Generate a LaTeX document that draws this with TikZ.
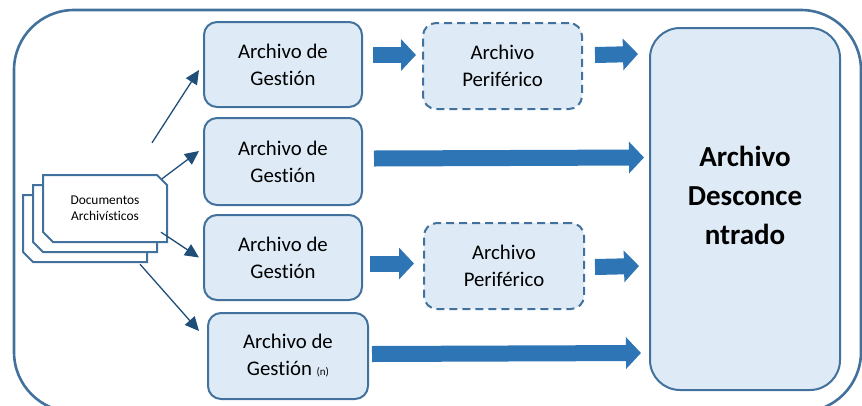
\documentclass[tikz,border=0pt]{standalone}
\usepackage{fontspec}
\setmainfont[Ligatures=NoCommon]{Carlito}
\usetikzlibrary{arrows.meta,calc}

\definecolor{boxfill}{HTML}{DEEBF7}
\definecolor{boxline}{HTML}{41719C}
\definecolor{blockblue}{HTML}{2E75B6}
\definecolor{thinblue}{HTML}{1F4E79}

\tikzset{
  frame/.style={draw=boxline, line width=2.6pt, rounded corners=60pt},
  archbox/.style={draw=boxline, fill=boxfill, line width=2pt, rounded corners=13pt,
    align=center, inner sep=0pt, font=\fontsize{20.8}{27}\selectfont},
  peribox/.style={archbox, dash pattern=on 8pt off 5pt},
  bigbox/.style={draw=boxline, fill=boxfill, line width=2pt, rounded corners=30pt,
    align=center, inner sep=0pt, font=\bfseries\fontsize{29}{39}\selectfont},
  sheet/.style={draw=boxline, fill=white, line width=2pt, line join=miter},
  blockarrow/.style={draw=blockblue, line width=16pt,
    -{Triangle[length=15pt,width=31pt]}},
  thinarrow/.style={draw=thinblue, line width=1.3pt,
    -{Triangle[length=14pt,width=13pt]}},
}

\begin{document}
\begin{tikzpicture}[x=1pt,y=-1pt]
\useasboundingbox (0,0) rectangle (862,405);
\begin{scope}
\clip (0,0) rectangle (862,405);
\draw[frame] (14,10) rectangle (861,412);
\end{scope}

% stack of document sheets (back to front)
\foreach \d in {20,10,0}{
  \draw[sheet] (43-\d,175+\d) -- (157-\d,175+\d) -- (167-\d,185+\d)
    -- (167-\d,242+\d) -- (53-\d,242+\d) -- (43-\d,232+\d) -- cycle;
}
\node[align=center, inner sep=0pt, minimum width=124pt, minimum height=67pt,
  font=\fontsize{13.4}{16}\selectfont] (docs) at (105,208.5)
  {Documentos\\Archivísticos};

% archive boxes
\node[archbox, minimum width=158pt, minimum height=85pt] (ag1) at (283,64.5) {Archivo de\\Gestión};
\node[archbox, minimum width=158pt, minimum height=87pt] (ag2) at (283,161.5) {Archivo de\\Gestión};
\node[archbox, minimum width=158pt, minimum height=85pt] (ag3) at (283,257.5) {Archivo de\\Gestión};
\node[archbox, minimum width=160pt, minimum height=86pt] (ag4) at (288,356)
  {Archivo de\\Gestión {\fontsize{11}{12}\selectfont (n)}};
\node[peribox, minimum width=159pt, minimum height=86pt] (p1) at (502.5,66) {Archivo\\Periférico};
\node[peribox, minimum width=160pt, minimum height=86pt] (p2) at (504,266) {Archivo\\Periférico};
% the title sits a little above the middle of the box
\node[bigbox, minimum width=190pt, minimum height=362pt] (ad) at (745,209)
  {\raisebox{0pt}[\height][\dimexpr\depth+22pt\relax]{%
     \begin{tabular}{@{}c@{}}Archivo\\Desconce\\ntrado\end{tabular}}};

% thin arrows from the documents to each management archive
\draw[thinarrow] ($(docs.north)+(47,-32)$) -- ($(ag1.west)+(-4,5.5)$);
\draw[thinarrow] ($(docs.north)+(57,4)$) -- ($(ag2.west)+(-4,-10.5)$);
\draw[thinarrow] ($(docs.south)+(56,-10)$) -- ($(ag3.west)+(-4,0)$);
\draw[thinarrow] ($(docs.south)+(35,22)$) -- ($(ag4.west)+(-8,-25)$);

% block arrows towards the decentralised archive
\draw[blockarrow] ($(ag1.east)+(10,-9.5)$) -- ($(p1.west)+(-6,-11)$);
\draw[blockarrow] ($(p1.east)+(12,-11)$) -- ($(ad.north west)+(-11,27)$);
\draw[blockarrow] ($(ag2.east)+(11,-3)$) -- ($(ad.north west)+(-5,130.5)$);
\draw[blockarrow] ($(ag3.east)+(7,6)$) -- ($(p2.west)+(-9,-2.5)$);
\draw[blockarrow] ($(p2.east)+(10,1)$) -- ($(ad.north west)+(-10,239)$);
\draw[blockarrow] ($(ag4.east)+(3,-2)$) -- ($(ad.north west)+(-8,326)$);
\end{tikzpicture}
\end{document}
